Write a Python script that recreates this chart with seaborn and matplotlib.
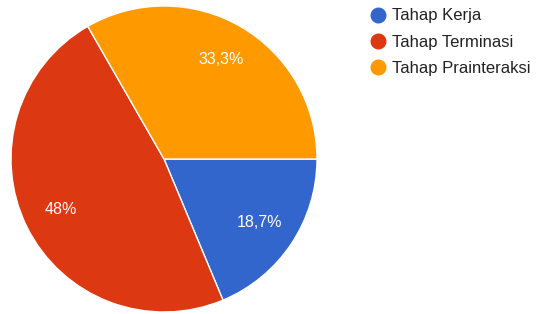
import matplotlib.pyplot as plt
import seaborn as sns
from matplotlib.lines import Line2D

# Tahapan komunikasi terapeutik
categories = ["Tahap Kerja", "Tahap Terminasi", "Tahap Prainteraksi"]
values = [18.7, 48.0, 33.3]
colors = sns.color_palette(["#3366CC", "#DC3912", "#FF9900"])

sns.set_theme(style="white")
plt.rcParams['font.family'] = ['Liberation Sans', 'DejaVu Sans']


def pct_label(p):
    s = f"{p:.1f}".replace(".", ",")
    if s.endswith(",0"):
        s = s[:-2]
    return s + "%"


fig = plt.figure(figsize=(5.36, 3.14), dpi=100)
ax = fig.add_axes([11 / 536, 2 / 314, 306 / 536, 306 / 314])

wedges, texts, autotexts = ax.pie(
    values, colors=colors, startangle=0, counterclock=False,
    autopct=pct_label, pctdistance=0.75,
    wedgeprops=dict(edgecolor="white", linewidth=1),
    textprops=dict(color="white", fontsize=11.5))
ax.set_xlim(-1, 1)
ax.set_ylim(-1, 1)
ax.set_aspect("equal")

handles = [Line2D([0], [0], marker="o", linestyle="", markersize=10.5,
                  markerfacecolor=c, markeredgecolor=c) for c in colors]
fig.legend(handles, categories, loc="upper left", bbox_to_anchor=(350 / 536, 1.021),
           frameon=False, fontsize=12, labelspacing=0.68, handletextpad=0.15,
           handlelength=1.5, labelcolor="#222222")

plt.savefig("out.png", dpi=100)
